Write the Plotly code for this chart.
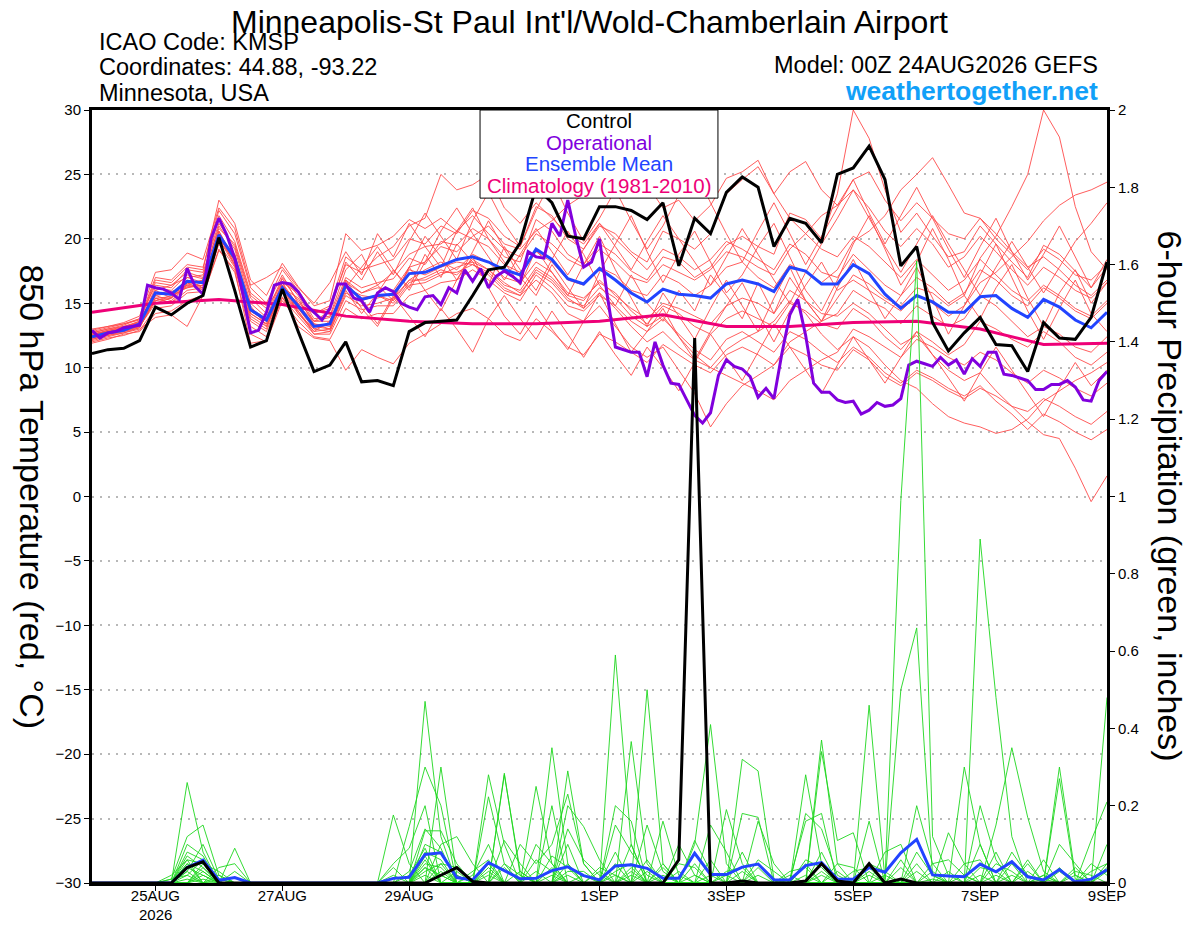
import pandas as pd
import plotly.graph_objects as go

# time axes (GEFS 6-hourly, operational GFS 3-hourly, climatology daily)
times = pd.date_range("2026-08-24 00:00", "2026-09-09 00:00", freq="6h")
op_times = pd.date_range("2026-08-24 00:00", "2026-09-09 00:00", freq="3h")
clim_times = pd.date_range("2026-08-24 00:00", "2026-09-09 00:00", freq="D")

tick_vals = ["2026-08-25", "2026-08-27", "2026-08-29", "2026-09-01",
             "2026-09-03", "2026-09-05", "2026-09-07", "2026-09-09"]
tick_text = ["25AUG", "27AUG", "29AUG", "1SEP", "3SEP", "5SEP", "7SEP", "9SEP"]
year_label = "2026"

# 850 hPa temperature (C)
control_t = [11.1, 11.4, 11.5, 12.1, 14.7, 14.1, 15.0, 15.6, 20.1, 16.0,
             11.6, 12.1, 16.1, 12.8, 9.7, 10.2, 12.0, 8.9, 9.0, 8.6,
             12.8, 13.5, 13.6, 13.7, 15.6, 17.6, 17.8, 19.7, 24.0, 22.8,
             20.2, 20.0, 22.5, 22.5, 22.2, 21.5, 22.8, 17.9, 21.6, 20.4,
             23.6, 24.8, 24.0, 19.4, 21.6, 21.2, 19.7, 25.0, 25.5, 27.2,
             24.6, 17.9, 19.4, 13.5, 11.3, 12.7, 13.9, 11.8, 11.7, 9.7,
             13.5, 12.3, 12.2, 13.9, 18.2]

mean_t = [12.4, 12.7, 12.9, 13.4, 15.8, 15.7, 16.7, 16.6, 20.3, 18.5,
          14.5, 13.7, 16.2, 14.8, 13.2, 13.4, 16.4, 15.3, 15.6, 15.7,
          17.3, 17.4, 17.9, 18.4, 18.6, 18.2, 17.6, 17.2, 19.2, 18.4,
          16.9, 16.5, 17.7, 16.8, 15.8, 15.1, 16.1, 15.7, 15.6, 15.4,
          16.5, 16.8, 16.5, 15.9, 17.8, 17.5, 16.5, 16.5, 18.0, 17.3,
          15.7, 14.6, 15.6, 15.1, 14.3, 14.3, 15.5, 15.6, 14.6, 13.9,
          15.3, 14.7, 13.7, 13.1, 14.3]

oper_t = [12.9, 12.3, 12.7, 12.8, 13.1, 13.2, 13.3, 16.4, 16.2, 16.1,
          15.8, 15.3, 17.7, 16.3, 15.7, 20.0, 21.6, 20.3, 18.5, 15.8,
          12.7, 12.9, 14.3, 16.4, 16.6, 16.5, 15.9, 14.9, 14.3, 13.7,
          14.6, 16.5, 16.5, 15.4, 15.2, 14.3, 15.8, 16.2, 15.9, 15.0,
          14.7, 14.5, 15.5, 15.6, 14.9, 16.2, 15.8, 17.6, 16.7, 17.7,
          16.2, 17.1, 17.5, 17.1, 16.6, 19.0, 18.6, 18.5, 21.2, 20.2,
          23.0, 20.2, 17.8, 18.2, 20.0, 15.5, 11.6, 11.4, 11.2, 11.2,
          9.3, 12.0, 10.2, 8.8, 8.7, 7.5, 6.3, 5.7, 6.5, 9.4,
          10.6, 10.1, 9.9, 9.3, 7.7, 8.4, 7.6, 11.1, 14.1, 15.3,
          12.5, 8.8, 8.1, 8.1, 7.5, 7.3, 7.4, 6.4, 6.7, 7.3,
          7.0, 7.1, 7.6, 10.2, 10.5, 10.3, 10.1, 10.8, 10.2, 10.6,
          9.5, 10.7, 10.1, 11.2, 11.2, 9.5, 9.4, 9.2, 9.0, 8.3,
          8.3, 8.7, 8.7, 9.0, 8.5, 7.5, 7.4, 9.0, 9.7]

clim_t = [14.3, 15.0, 15.3, 14.9, 14.0, 13.6, 13.4, 13.4, 13.6,
          14.1, 13.2, 13.2, 13.5, 13.6, 13.0, 11.8, 11.9]

# ensemble members, temperature
t01 = [12.6, 12.9, 13.2, 13.5, 16.2, 16.0, 17.2, 16.9, 21.0, 19.2, 15.0, 13.9, 16.9, 15.2, 13.6, 13.9,
       17.0, 16.2, 16.6, 16.9, 18.5, 18.0, 19.8, 19.5, 20.8, 20.0, 18.6, 18.2, 21.5, 20.6, 18.8, 18.0,
       19.6, 18.8, 17.5, 16.8, 18.6, 18.2, 17.0, 17.8, 19.5, 20.2, 19.4, 18.8, 22.0, 21.5, 20.0, 23.5,
       30.0, 27.8, 23.8, 20.5, 22.0, 20.2, 18.6, 19.0, 21.0, 19.6, 18.2, 17.0, 19.5, 18.8, 17.5, 16.2, 17.8]
t02 = [12.2, 12.5, 12.8, 13.1, 15.4, 15.5, 16.3, 16.4, 20.6, 18.2, 14.0, 13.2, 15.8, 14.4, 12.8, 13.0,
       16.0, 14.2, 15.8, 17.6, 16.2, 18.8, 17.0, 19.6, 18.2, 16.4, 19.4, 17.6, 16.0, 18.4, 20.6, 18.8,
       16.4, 14.8, 17.2, 15.0, 13.6, 16.0, 14.4, 17.2, 15.6, 13.8, 16.6, 14.2, 17.0, 15.2, 13.6, 15.4,
       17.2, 16.5, 15.4, 14.8, 16.2, 15.8, 14.8, 15.6, 18.5, 20.2, 22.5, 25.0, 30.0, 27.9, 22.5, 19.0, 17.6]
t03 = [12.0, 12.3, 12.5, 12.9, 14.6, 14.8, 15.8, 15.9, 19.6, 17.8, 13.2, 12.4, 15.4, 14.0, 12.6, 12.6,
       15.2, 14.5, 14.8, 14.8, 16.4, 16.6, 17.2, 17.8, 18.2, 17.6, 16.4, 16.0, 17.8, 17.0, 15.6, 15.2,
       16.8, 15.6, 14.6, 13.8, 15.0, 14.6, 14.0, 13.4, 14.8, 15.4, 15.0, 14.2, 16.0, 15.2, 14.2, 14.0,
       15.0, 14.2, 13.0, 11.8, 12.5, 11.0, 9.8, 9.0, 9.6, 8.2, 7.0, 5.8, 4.8, 4.5, 2.2, -0.4, 1.6]
t04 = [12.5, 12.8, 13.0, 13.4, 15.6, 15.2, 16.5, 16.8, 20.0, 18.6, 14.4, 13.6, 16.0, 14.6, 13.0, 13.4,
       16.2, 15.6, 15.4, 15.8, 17.6, 17.2, 17.8, 18.2, 18.0, 17.4, 16.2, 15.6, 16.8, 15.8, 14.2, 13.6,
       14.8, 13.2, 11.6, 10.8, 11.6, 9.8, 8.0, 5.4, 7.2, 8.6, 9.4, 10.2, 12.0, 12.8, 13.6, 14.2,
       16.0, 15.2, 14.6, 13.4, 14.8, 14.0, 13.2, 13.8, 15.6, 14.8, 13.6, 12.4, 13.2, 12.6, 11.6, 11.2, 12.4]
t05 = [13.0, 13.2, 13.4, 13.8, 17.0, 16.8, 18.0, 17.8, 22.2, 20.4, 16.2, 15.0, 17.6, 16.0, 14.2, 14.8,
       18.6, 17.6, 18.0, 18.4, 20.0, 19.6, 21.0, 20.4, 22.2, 21.6, 20.2, 19.4, 22.5, 21.8, 20.0, 19.2,
       21.0, 20.4, 19.0, 18.2, 20.6, 20.0, 19.2, 20.4, 23.5, 24.6, 25.6, 23.5, 25.2, 26.0, 23.8, 22.6,
       23.8, 22.4, 20.6, 19.4, 20.8, 19.6, 17.8, 18.6, 20.2, 19.0, 17.6, 16.4, 17.8, 17.0, 16.0, 15.4, 16.6]
t06 = [12.3, 12.6, 12.9, 13.2, 15.2, 15.6, 16.2, 16.6, 20.2, 18.0, 13.8, 13.0, 16.4, 14.8, 13.4, 13.2,
       16.8, 15.8, 16.2, 16.0, 17.8, 18.2, 19.4, 19.0, 20.2, 21.0, 19.6, 19.2, 20.6, 21.4, 22.6, 23.4,
       25.5, 24.6, 26.0, 24.2, 22.4, 23.0, 21.4, 22.6, 24.7, 25.2, 26.1, 23.5, 21.6, 20.4, 19.2, 18.6,
       20.2, 19.4, 18.2, 17.0, 18.4, 17.2, 16.0, 16.8, 18.4, 17.2, 16.0, 15.2, 16.4, 15.6, 14.6, 14.0, 15.2]
t07 = [11.9, 12.2, 12.6, 12.8, 14.2, 14.4, 15.2, 15.6, 19.2, 17.4, 12.6, 12.0, 15.2, 13.6, 12.4, 12.2,
       14.6, 13.8, 14.2, 14.2, 15.6, 16.0, 16.6, 16.8, 17.6, 16.8, 15.8, 15.2, 17.2, 16.2, 14.8, 14.4,
       15.6, 14.8, 13.6, 12.8, 13.8, 12.6, 11.4, 10.6, 12.2, 12.8, 12.0, 11.2, 12.8, 12.2, 11.2, 10.4,
       11.6, 10.8, 9.6, 8.8, 9.8, 9.2, 8.4, 7.8, 8.6, 7.4, 6.4, 5.2, 6.4, 5.8, 5.0, 4.4, 5.2]
t08 = [12.7, 13.0, 13.2, 13.6, 16.6, 16.4, 17.0, 17.2, 20.8, 19.6, 15.6, 14.6, 16.6, 15.8, 13.8, 14.0,
       17.6, 18.8, 16.4, 15.2, 17.8, 20.2, 18.6, 16.8, 19.0, 21.4, 19.2, 17.0, 15.6, 18.0, 16.2, 14.6,
       17.4, 19.6, 21.8, 19.0, 16.6, 18.8, 20.6, 18.2, 15.8, 17.2, 19.4, 21.2, 18.6, 16.0, 14.4, 16.8,
       19.6, 21.8, 19.2, 16.4, 18.2, 20.8, 18.4, 15.6, 13.8, 16.2, 18.0, 15.4, 13.2, 15.8, 17.6, 15.0, 16.6]
t09 = [12.8, 13.1, 13.4, 13.7, 16.8, 16.6, 17.8, 17.6, 23.0, 21.2, 16.8, 15.6, 18.1, 16.3, 14.8, 15.2,
       20.4, 19.1, 19.5, 20.2, 21.5, 20.8, 21.6, 20.6, 21.8, 20.4, 19.2, 18.6, 20.4, 19.6, 18.4, 17.8,
       19.2, 18.2, 17.0, 16.6, 18.0, 17.4, 16.8, 17.6, 19.0, 18.6, 17.8, 17.2, 19.2, 20.4, 21.8, 22.6,
       24.6, 25.2, 23.0, 21.4, 22.8, 21.6, 20.4, 20.0, 21.6, 20.4, 19.0, 17.8, 18.6, 17.6, 16.4, 15.6, 16.8]
t10 = [12.1, 12.4, 12.7, 13.0, 13.9, 14.1, 13.2, 15.6, 19.1, 17.6, 11.9, 12.1, 15.5, 13.2, 12.3, 12.1,
       9.8, 11.4, 10.8, 10.3, 11.9, 12.6, 13.4, 14.2, 14.6, 13.8, 12.6, 12.1, 13.8, 12.8, 11.6, 11.0,
       12.6, 12.0, 11.2, 10.4, 11.8, 11.0, 10.2, 9.6, 11.0, 11.6, 11.0, 10.2, 11.6, 11.0, 10.2, 9.8,
       11.4, 10.6, 9.3, 8.6, 9.6, 9.0, 8.2, 7.6, 8.4, 7.8, 7.0, 6.6, 7.6, 7.0, 6.2, 5.6, 6.6]
t11 = [12.6, 12.8, 13.1, 13.5, 16.0, 16.4, 17.4, 17.0, 21.8, 19.8, 15.8, 14.8, 17.2, 15.0, 14.2, 14.6,
       18.0, 17.4, 18.6, 19.4, 21.0, 21.6, 25.0, 23.8, 24.2, 25.0, 22.4, 21.2, 22.8, 21.6, 20.4, 19.6,
       21.2, 20.0, 18.8, 17.6, 19.2, 18.6, 17.6, 18.4, 19.8, 19.2, 18.4, 17.6, 19.6, 18.8, 17.4, 17.0,
       18.8, 17.6, 16.4, 15.6, 17.0, 16.2, 15.0, 15.8, 17.6, 16.8, 15.6, 14.8, 16.2, 15.4, 14.4, 13.8, 15.0]
t12 = [12.4, 12.7, 12.9, 13.3, 15.4, 15.0, 16.0, 16.2, 19.8, 18.4, 14.2, 13.4, 15.8, 14.2, 13.0, 12.8,
       15.8, 15.2, 15.6, 15.0, 16.6, 17.0, 17.6, 17.2, 18.4, 17.6, 16.6, 15.8, 17.4, 16.6, 15.2, 14.8,
       16.2, 15.4, 14.0, 13.2, 14.0, 12.4, 11.0, 10.0, 9.4, 8.8, 8.2, 7.5, 9.0, 9.8, 10.6, 11.2,
       13.0, 12.4, 11.6, 10.8, 12.2, 11.6, 10.8, 10.2, 11.2, 10.6, 9.6, 8.8, 9.8, 9.2, 8.4, 7.8, 8.8]
t13 = [12.9, 13.2, 13.5, 14.0, 17.4, 17.6, 18.9, 18.4, 22.4, 20.8, 16.4, 17.0, 17.8, 16.2, 15.0, 16.6,
       19.0, 17.2, 20.4, 18.6, 21.2, 19.4, 17.8, 20.6, 22.4, 20.0, 18.2, 16.4, 19.2, 17.4, 15.6, 18.0,
       20.2, 17.6, 15.4, 13.2, 15.8, 14.0, 12.2, 14.6, 16.8, 14.8, 12.8, 15.4, 17.8, 15.2, 13.6, 16.2,
       18.4, 16.0, 13.8, 15.6, 17.8, 15.4, 12.6, 14.8, 17.2, 19.6, 17.0, 14.4, 12.2, 14.6, 16.8, 14.2, 12.8]
t14 = [12.3, 12.6, 12.8, 13.2, 15.0, 15.4, 16.8, 16.2, 20.4, 18.0, 14.6, 13.6, 16.6, 14.2, 12.8, 13.6,
       16.6, 15.8, 16.4, 17.4, 18.8, 19.4, 19.6, 20.6, 20.0, 19.4, 18.0, 17.4, 19.0, 18.2, 16.8, 16.4,
       17.8, 17.2, 16.0, 15.6, 17.2, 16.6, 15.6, 16.4, 17.8, 18.2, 17.0, 16.2, 18.0, 17.4, 16.6, 17.6,
       19.8, 20.6, 21.8, 23.8, 25.0, 26.3, 24.2, 22.0, 21.6, 20.0, 18.8, 17.6, 19.2, 18.4, 17.2, 16.8, 18.0]
t15 = [12.5, 12.9, 13.1, 13.6, 15.8, 15.9, 16.4, 16.2, 19.9, 18.8, 14.8, 13.2, 16.2, 15.4, 13.4, 13.0,
       16.4, 14.6, 13.2, 15.4, 17.8, 16.0, 14.4, 16.8, 18.6, 16.2, 14.0, 12.6, 14.8, 13.0, 11.4, 13.6,
       15.8, 13.4, 11.2, 12.8, 14.6, 12.4, 10.6, 12.8, 14.8, 16.6, 14.2, 12.0, 14.4, 16.4, 18.2, 16.0,
       16.8, 16.0, 15.2, 14.4, 15.6, 15.0, 14.0, 14.8, 16.6, 17.4, 18.6, 19.8, 21.4, 22.6, 23.4, 23.8, 24.4]
t16 = [12.2, 12.5, 12.7, 13.1, 15.4, 15.0, 16.6, 16.0, 20.0, 17.9, 13.6, 12.8, 16.0, 14.4, 12.6, 12.8,
       15.6, 14.8, 15.0, 15.4, 16.8, 16.8, 17.4, 17.4, 18.0, 17.2, 16.0, 15.6, 17.6, 16.8, 15.4, 14.6,
       15.8, 14.6, 13.2, 12.0, 12.8, 11.6, 10.6, 10.0, 11.4, 12.2, 12.8, 13.6, 15.2, 14.2, 12.6, 11.4,
       12.4, 11.6, 10.2, 9.0, 8.4, 7.2, 6.2, 5.7, 5.4, 4.9, 5.2, 6.0, 7.4, 8.2, 9.0, 9.6, 10.4]
t17 = [12.7, 13.0, 13.3, 13.8, 16.4, 16.2, 17.6, 17.4, 21.2, 19.4, 15.4, 14.2, 17.0, 15.6, 13.6, 14.4,
       18.2, 16.8, 19.0, 17.2, 19.8, 22.0, 20.2, 18.4, 21.4, 23.6, 21.2, 19.4, 22.2, 24.6, 22.0, 19.8,
       21.6, 23.8, 21.4, 19.2, 21.0, 23.4, 25.4, 22.8, 20.4, 18.2, 20.6, 22.8, 20.4, 18.0, 20.2, 22.4,
       24.6, 22.0, 19.6, 21.8, 24.0, 21.6, 19.2, 17.0, 19.4, 21.6, 19.0, 16.8, 18.8, 21.0, 18.6, 16.2, 18.4]
t18 = [12.4, 12.6, 13.0, 13.3, 15.6, 15.8, 16.2, 16.4, 20.2, 18.8, 14.2, 13.4, 16.4, 14.6, 13.2, 13.4,
       16.4, 15.4, 15.6, 15.2, 16.8, 17.6, 18.2, 17.6, 18.8, 18.2, 17.0, 16.6, 18.2, 17.4, 15.8, 15.4,
       16.6, 15.8, 14.4, 13.4, 14.8, 14.2, 13.2, 12.6, 13.8, 14.4, 13.8, 13.2, 15.0, 14.4, 13.4, 13.0,
       14.6, 13.8, 12.4, 11.4, 12.8, 12.0, 11.0, 11.8, 13.6, 13.0, 12.2, 11.6, 12.8, 12.0, 10.8, 10.2, 11.2]
t19 = [12.6, 12.8, 13.1, 13.4, 16.0, 15.4, 17.0, 16.6, 20.6, 18.4, 14.6, 13.8, 16.6, 14.8, 13.6, 13.6,
       16.8, 15.0, 13.4, 15.6, 14.0, 12.4, 14.6, 13.0, 11.2, 13.8, 15.6, 13.8, 12.2, 14.4, 12.6, 10.8,
       12.8, 11.0, 9.4, 11.6, 10.0, 8.2, 10.4, 12.6, 10.8, 9.0, 11.2, 13.4, 11.6, 9.8, 8.0, 10.2,
       12.4, 10.6, 8.8, 10.8, 12.8, 11.0, 9.2, 7.4, 9.6, 11.6, 9.8, 8.0, 6.2, 8.4, 10.4, 8.6, 9.8]
t20 = [12.3, 12.6, 12.9, 13.2, 15.2, 15.4, 16.4, 16.8, 20.4, 18.2, 14.4, 13.6, 16.2, 15.0, 13.2, 13.0,
       16.2, 17.8, 19.4, 17.6, 16.0, 18.2, 20.6, 22.4, 20.4, 18.6, 16.8, 18.8, 20.8, 19.0, 17.2, 19.2,
       21.2, 19.4, 17.6, 19.8, 21.8, 20.0, 18.2, 16.4, 18.6, 20.8, 18.8, 16.8, 15.0, 17.4, 19.6, 21.6,
       23.8, 21.6, 19.4, 17.4, 19.6, 21.8, 19.6, 17.6, 15.6, 17.8, 19.8, 17.8, 15.8, 17.8, 19.8, 21.2, 22.8]

# 6-hour precipitation (inches)
control_p = [0, 0, 0, 0, 0, 0, 0.04, 0.055, 0, 0, 0, 0, 0,
             0, 0, 0, 0, 0, 0, 0, 0, 0, 0.02, 0.04, 0.004, 0,
             0, 0, 0, 0, 0, 0, 0, 0, 0, 0, 0, 0.06, 1.41,
             0, 0, 0.005, 0, 0, 0, 0.005, 0.05, 0.005, 0, 0.05, 0, 0.01,
             0, 0, 0, 0, 0, 0, 0, 0, 0, 0, 0, 0, 0]
mean_p = [0, 0, 0, 0, 0, 0, 0.04, 0.059, 0.007, 0.014, 0, 0, 0,
          0, 0, 0, 0, 0, 0, 0.012, 0.015, 0.074, 0.078, 0.014, 0.008, 0.053,
          0.032, 0.011, 0.012, 0.032, 0.042, 0.019, 0.008, 0.044, 0.047, 0.038, 0.012, 0.012, 0.077,
          0.022, 0.022, 0.041, 0.049, 0.008, 0.008, 0.045, 0.053, 0.010, 0.010, 0.040, 0.028, 0.078,
          0.113, 0.021, 0.018, 0.016, 0.049, 0.029, 0.055, 0.016, 0.008, 0.035, 0.003, 0.010, 0.034]

p01 = [0, 0, 0, 0, 0, 0, .26, .08, 0, 0, 0, 0, 0,
       0, 0, 0, 0, 0, 0, 0, 0, .47, .12, 0, 0, .05,
       0, 0, 0, .35, .05, 0, 0, .59, .10, 0, 0, 0, 0,
       0, 0, 0, 0, 0, 0, 0, .37, .05, 0, 0, 0, 0,
       0, 0, 0, 0, .89, .48, .12, 0, 0, 0, 0, 0, .05]
p02 = [0, 0, 0, 0, 0, .01, .12, .15, .02, 0, 0, 0, 0,
       0, 0, 0, 0, 0, 0, .176, .05, 0, .30, .02, 0, 0,
       .28, .03, 0, 0, 0, 0, 0, 0, 0, .50, .05, 0, 0,
       0, 0, 0, 0, 0, 0, 0, 0, 0, 0, .46, .01, .99,
       1.61, .12, .02, 0, 0, 0, 0, 0, 0, .30, .02, 0, 0]
p03 = [0, 0, 0, 0, 0, 0, .08, .06, 0, .09, 0, 0, 0,
       0, 0, 0, 0, 0, 0, 0, .146, .30, .20, 0, 0, .28,
       .10, 0, 0, 0, .29, .05, 0, 0, 0, 0, 0, 0, .10,
       .41, .05, 0, 0, 0, 0, 0, 0, 0, 0, 0, 0, .50,
       .66, .02, 0, 0, 0, 0, 0, 0, 0, 0, 0, 0, .48]
p04 = [0, 0, 0, 0, 0, 0, .10, .07, 0, 0, 0, 0, 0,
       0, 0, 0, 0, 0, 0, 0, 0, .135, .135, .05, 0, 0,
       0, 0, .25, .05, 0, 0, 0, 0, .366, .05, 0, 0, 0,
       0, 0, .32, .29, .01, 0, 0, 0, 0, 0, .16, 0, 0,
       0, 0, 0, .30, .10, 0, 0, 0, 0, 0, 0, .11, .21]
p05 = [0, 0, 0, 0, 0, 0, 0, .05, .03, 0, 0, 0, 0,
       0, 0, 0, 0, 0, 0, .05, .09, .20, 0, 0, 0, .223,
       .05, 0, 0, 0, .20, .146, .06, 0, 0, 0, .16, .02, 0,
       0, 0, 0, 0, 0, 0, .28, .05, 0, 0, 0, 0, 0,
       0, 0, 0, 0, 0, .15, .35, .17, .03, 0, 0, 0, 0]
p06 = [0, 0, 0, 0, 0, 0, .05, 0, .04, .05, 0, 0, 0,
       0, 0, 0, 0, 0, 0, 0, 0, 0, .10, .12, .05, 0,
       .284, .02, 0, .20, 0, 0, 0, .20, .16, 0, 0, 0, 0,
       0, .19, .05, 0, 0, 0, 0, .34, .11, .13, 0, 0, 0,
       0, 0, .13, .05, 0, 0, 0, 0, 0, .27, .01, 0, 0]
p07 = [0, 0, 0, 0, 0, 0, .07, .04, 0, 0, 0, 0, 0,
       0, 0, 0, 0, 0, 0, 0, .03, .14, .09, 0, 0, 0,
       0, .10, .05, .10, .23, .05, 0, .05, 0, .15, .03, 0, 0,
       0, 0, .18, .17, 0, .01, .16, .18, 0, 0, 0, 0, 0,
       .20, .05, 0, 0, 0, .08, 0, 0, .02, 0, 0, 0, .10]
p08 = [0, 0, 0, 0, 0, 0, .03, .10, .01, 0, 0, 0, 0,
       0, 0, 0, 0, 0, 0, 0, 0, .08, .06, 0, .02, .10,
       0, 0, .10, .05, 0, 0, 0, 0, .10, 0, 0, 0, .11,
       .03, 0, 0, .16, .05, 0, 0, 0, 0, 0, .05, .03, 0,
       0, 0, 0, 0, .10, 0, .05, 0, 0, .10, .05, 0, 0]
p09 = [0, 0, 0, 0, 0, .02, .06, .05, 0, 0, 0, 0, 0,
       0, 0, 0, 0, 0, 0, .02, 0, .10, .08, .02, 0, 0,
       0, 0, 0, 0, .14, .06, .02, 0, 0, 0, 0, .05, .04,
       0, 0, 0, 0, 0, 0, .18, .14, .02, 0, 0, 0, 0,
       0, .05, .06, .02, 0, 0, 0, .05, 0, 0, .03, .02, 0]
p10 = [0, 0, 0, 0, 0, 0, .04, .02, 0, .03, 0, 0, 0,
       0, 0, 0, 0, 0, 0, 0, 0, .05, .04, 0, 0, 0,
       .11, .05, 0, 0, 0, 0, 0, .15, .08, .02, 0, 0, 0,
       .06, 0, .08, 0, 0, 0, .05, 0, 0, 0, 0, .08, .10,
       0, 0, 0, 0, .04, .03, 0, 0, .06, 0, 0, .03, .05]
p11 = [0, 0, 0, 0, 0, 0, 0, .03, 0, 0, 0, 0, 0,
       0, 0, 0, 0, 0, 0, 0, .02, .09, 0, 0, 0, .04,
       0, 0, 0, .07, .04, 0, 0, .08, 0, 0, .05, 0, 0,
       .15, .08, 0, 0, 0, .02, 0, .08, 0, 0, .03, 0, 0,
       .05, 0, 0, 0, .20, .06, 0, 0, 0, .04, 0, 0, 0]
p12 = [0, 0, 0, 0, 0, 0, .02, 0, .02, 0, 0, 0, 0,
       0, 0, 0, 0, 0, 0, 0, 0, 0, .05, .04, 0, 0,
       0, 0, .03, 0, .10, 0, .03, 0, 0, .06, 0, 0, .05,
       0, 0, 0, .06, .03, 0, 0, 0, .05, .04, 0, 0, 0,
       0, .03, 0, 0, 0, 0, .08, .02, 0, 0, 0, 0, .04]
p13 = [0, 0, 0, 0, 0, 0, .05, .03, 0, 0, 0, 0, 0,
       0, 0, 0, 0, 0, 0, 0, 0, .06, 0, 0, .03, .06,
       0, 0, 0, .04, 0, 0, 0, .03, .05, 0, 0, .10, .02,
       0, 0, 0, 0, 0, 0, .06, .04, 0, 0, 0, 0, .06,
       0, 0, 0, .05, .06, 0, 0, 0, 0, 0, .04, 0, 0]
p14 = [0, 0, 0, 0, 0, .01, .02, .06, 0, 0, 0, 0, 0,
       0, 0, 0, 0, 0, 0, 0, 0, .03, .05, 0, 0, 0,
       .05, .02, 0, 0, .03, .03, 0, 0, .04, 0, 0, 0, 0,
       0, .03, .04, 0, 0, 0, 0, 0, 0, .03, .04, 0, 0,
       0, 0, 0, 0, 0, .05, .03, 0, .02, 0, 0, 0, 0]
p15 = [0, 0, 0, 0, 0, 0, 0, .02, 0, 0, 0, 0, 0,
       0, 0, 0, 0, 0, 0, .04, 0, .04, .02, 0, 0, 0,
       0, 0, .06, .03, 0, 0, .04, .02, 0, 0, .04, 0, 0,
       .02, 0, 0, 0, 0, .03, .04, 0, 0, 0, 0, 0, 0,
       .08, .02, 0, 0, 0, 0, 0, .06, 0, 0, 0, .05, .02]
p16 = [0, 0, 0, 0, 0, 0, .01, 0, .01, 0, 0, 0, 0,
       0, 0, 0, 0, 0, 0, 0, 0, .02, 0, 0, 0, .02,
       0, 0, 0, 0, .05, 0, 0, 0, 0, .03, 0, 0, 0,
       0, 0, 0, .02, 0, 0, 0, .02, 0, 0, 0, .02, 0,
       0, 0, .03, 0, 0, .02, 0, 0, 0, .03, 0, 0, 0]
p17 = [0, 0, 0, 0, 0, 0, .03, 0, 0, 0, 0, 0, 0,
       0, 0, 0, 0, 0, 0, 0, 0, .07, 0, .03, 0, 0,
       0, .03, 0, 0, 0, .02, 0, 0, .03, 0, 0, 0, .02,
       0, 0, .03, 0, 0, 0, 0, 0, .03, 0, 0, 0, 0,
       .03, 0, 0, 0, .02, 0, 0, 0, .01, 0, 0, 0, 0]
p18 = [0, 0, 0, 0, 0, 0, 0, .04, 0, 0, 0, 0, 0,
       0, 0, 0, 0, 0, 0, 0, 0, 0, .03, 0, 0, 0,
       0, 0, 0, .02, 0, 0, 0, .02, 0, 0, 0, .03, 0,
       0, 0, 0, 0, 0, 0, .02, 0, 0, 0, .02, 0, 0,
       0, 0, 0, .02, 0, 0, .02, 0, 0, 0, 0, 0, .03]
p19 = [0, 0, 0, 0, 0, 0, .06, 0, 0, 0, 0, 0, 0,
       0, 0, 0, 0, 0, 0, 0, 0, .04, 0, 0, 0, 0,
       .04, 0, 0, 0, .02, 0, 0, 0, 0, 0, .02, 0, 0,
       0, 0, 0, .04, 0, 0, 0, 0, 0, 0, 0, 0, .04,
       0, 0, 0, 0, 0, 0, 0, .03, 0, 0, 0, 0, 0]
p20 = [0, 0, 0, 0, 0, 0, 0, .01, 0, 0, 0, 0, 0,
       0, 0, 0, 0, 0, 0, 0, 0, 0, .02, 0, 0, .03,
       0, 0, 0, 0, 0, 0, 0, 0, .02, 0, 0, 0, 0,
       0, .02, 0, 0, 0, 0, 0, .03, 0, 0, 0, 0, 0,
       0, .01, 0, 0, 0, 0, 0, 0, 0, 0, .02, 0, 0]

temp_members = [t01, t02, t03, t04, t05, t06, t07, t08, t09, t10,
                t11, t12, t13, t14, t15, t16, t17, t18, t19, t20]
precip_members = [p01, p02, p03, p04, p05, p06, p07, p08, p09, p10,
                  p11, p12, p13, p14, p15, p16, p17, p18, p19, p20]

for s in temp_members + precip_members + [control_t, mean_t, control_p, mean_p]:
    assert len(s) == len(times), len(s)
assert len(oper_t) == len(op_times)
assert len(clim_t) == len(clim_times)

FONT = "Liberation Sans, Arial, Helvetica, sans-serif"
RED = "rgb(255,75,75)"
GREEN = "rgb(30,215,30)"
BLUE = "#2244ff"
PURPLE = "#8000dd"
PINK = "#ee0077"

fig = go.Figure()

for m in temp_members:
    fig.add_trace(go.Scatter(x=times, y=m, mode="lines", line=dict(color=RED, width=0.9),
                             hoverinfo="skip", showlegend=False))

fig.add_trace(go.Scatter(x=clim_times, y=clim_t, mode="lines", line=dict(color=PINK, width=3),
                         showlegend=False))
fig.add_trace(go.Scatter(x=times, y=mean_t, mode="lines", line=dict(color=BLUE, width=3),
                         showlegend=False))
fig.add_trace(go.Scatter(x=op_times, y=oper_t, mode="lines", line=dict(color=PURPLE, width=3),
                         showlegend=False))
fig.add_trace(go.Scatter(x=times, y=control_t, mode="lines", line=dict(color="black", width=3),
                         showlegend=False))

# precipitation on the right axis
for m in precip_members:
    fig.add_trace(go.Scatter(x=times, y=m, yaxis="y2", mode="lines",
                             line=dict(color=GREEN, width=0.9), hoverinfo="skip", showlegend=False))
fig.add_trace(go.Scatter(x=times, y=mean_p, yaxis="y2", mode="lines",
                         line=dict(color=BLUE, width=3), showlegend=False))
fig.add_trace(go.Scatter(x=times, y=control_p, yaxis="y2", mode="lines",
                         line=dict(color="black", width=3), showlegend=False))

# the page body keeps an 8px margin, so the figure is 8px smaller than the window
fig.update_layout(
    width=1192, height=919,
    margin=dict(l=84, r=93, t=102, b=44),
    paper_bgcolor="white", plot_bgcolor="white",
    font=dict(family=FONT, color="black", size=15),
    showlegend=False,
    xaxis=dict(type="date", range=[times[0], times[-1]], automargin=False,
               tickvals=tick_vals, ticktext=tick_text, ticklabelstandoff=-8,
               showgrid=False, showline=True, linecolor="black", linewidth=3, mirror=True,
               ticks="outside", ticklen=5, tickcolor="black", tickfont=dict(size=15)),
    yaxis=dict(range=[-30, 30], dtick=5, tick0=-30, automargin=False,
               showgrid=True, gridcolor="#b8b8b8", griddash="2px,6px", gridwidth=2,
               zeroline=False, showline=True, linecolor="black", linewidth=3,
               ticks="outside", ticklen=5, tickcolor="black", tickfont=dict(size=15)),
    yaxis2=dict(range=[0, 2], dtick=0.2, tick0=0, overlaying="y", side="right", automargin=False,
                showgrid=False, zeroline=False, showline=True, linecolor="black", linewidth=3,
                ticks="outside", ticklen=5, tickcolor="black", tickfont=dict(size=15)),
)

# year under the first date label
fig.add_annotation(x=tick_vals[0], y=-0.0405, xref="x", yref="paper", text=year_label,
                   showarrow=False, font=dict(size=15), xanchor="center", yanchor="middle")

# legend box
fig.add_shape(type="rect", xref="paper", yref="paper", x0=0.3823, x1=0.6167, y0=0.886, y1=1.0,
              fillcolor="white", line=dict(color="black", width=1), layer="above")
legend_items = [("Control", "black", 0.9858), ("Operational", PURPLE, 0.9586),
                ("Ensemble Mean", BLUE, 0.9314), ("Climatology (1981-2010)", PINK, 0.9017)]
for text, col, yy in legend_items:
    fig.add_annotation(x=0.4995, y=yy, xref="paper", yref="paper", text=text, showarrow=False,
                       font=dict(size=20.5, color=col), xanchor="center", yanchor="middle")

# header texts
fig.add_annotation(x=0.4906, y=1.1137, xref="paper", yref="paper", showarrow=False,
                   text="Minneapolis-St Paul Int'l/Wold-Chamberlain Airport",
                   font=dict(size=32), xanchor="center", yanchor="middle")
for text, yy in [("ICAO Code: KMSP", 1.088), ("Coordinates: 44.88, -93.22", 1.056),
                 ("Minnesota, USA", 1.022)]:
    fig.add_annotation(x=0.005, y=yy, xref="paper", yref="paper", text=text, showarrow=False,
                       font=dict(size=23.5), xanchor="left", yanchor="middle")
fig.add_annotation(x=0.993, y=1.058, xref="paper", yref="paper", showarrow=False,
                   text="Model: 00Z 24AUG2026 GEFS", font=dict(size=23.5),
                   xanchor="right", yanchor="middle")
fig.add_annotation(x=0.993, y=1.025, xref="paper", yref="paper", showarrow=False,
                   text="<b>weathertogether.net</b>", font=dict(size=26.5, color="#11a0f8"),
                   xanchor="right", yanchor="middle")

# axis titles (both read top to bottom)
fig.add_annotation(x=-0.059, y=0.5, xref="paper", yref="paper", showarrow=False, textangle=90,
                   text="850 hPa Temperature (red, °C)", font=dict(size=34),
                   xanchor="center", yanchor="middle")
fig.add_annotation(x=1.063, y=0.5, xref="paper", yref="paper", showarrow=False, textangle=90,
                   text="6-hour Precipitation (green, inches)", font=dict(size=34),
                   xanchor="center", yanchor="middle")

fig.write_html("out.html")
